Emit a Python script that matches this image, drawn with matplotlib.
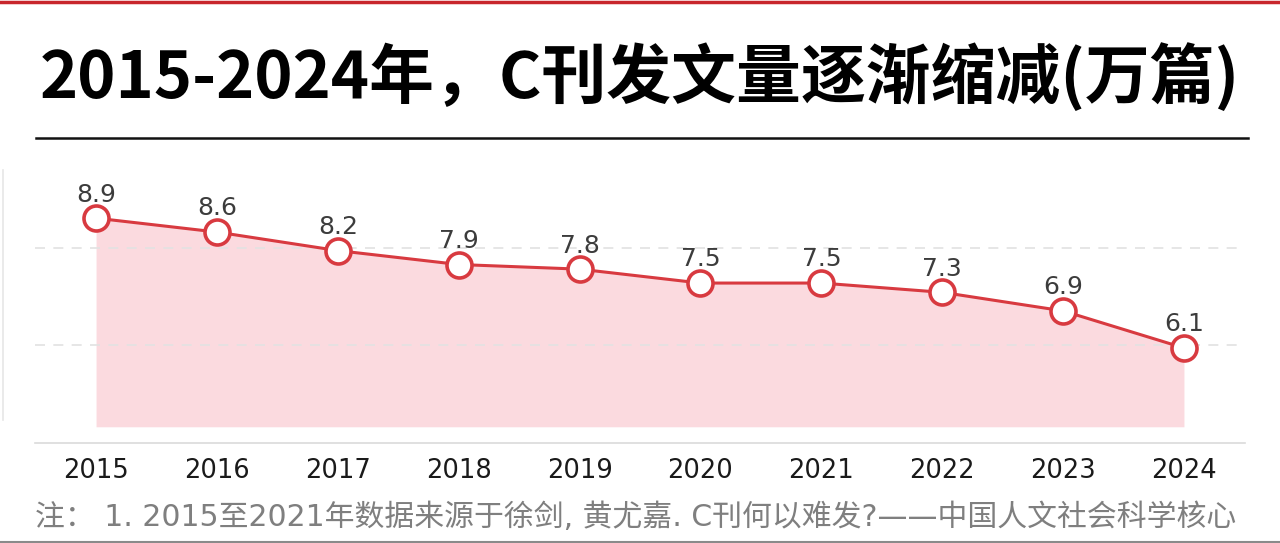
import matplotlib
matplotlib.use("Agg")
import matplotlib.pyplot as plt
from matplotlib.lines import Line2D

plt.rcParams['font.family'] = ['Noto Sans CJK SC', 'DejaVu Sans']

# data
years = [2015, 2016, 2017, 2018, 2019, 2020, 2021, 2022, 2023, 2024]
papers = [8.9, 8.6, 8.2, 7.9, 7.8, 7.5, 7.5, 7.3, 6.9, 6.1]
value_labels = ["8.9", "8.6", "8.2", "7.9", "7.8", "7.5", "7.5", "7.3", "6.9", "6.1"]

title = "2015-2024年，C刊发文量逐渐缩减(万篇)"
note = "注： 1. 2015至2021年数据来源于徐剑, 黄尤嘉. C刊何以难发?——中国人文社会科学核心"

W, H = 1280, 543
fig = plt.figure(figsize=(W / 100, H / 100), dpi=100)
fig.patch.set_facecolor("white")

# axes placed in pixel coords: x 35..1245, y 150..443 (from top)
ax = fig.add_axes([35 / W, 1 - 443 / H, 1210 / W, 293 / H])
ax.set_xlim(2014.495, 2024.505)
ax.set_ylim(4.05, 10.37)

red = "#d83a40"
ax.fill_between(years, papers, 4.4, color="#fbdadf", lw=0, zorder=1)
ax.plot(years, papers, color=red, lw=2.2, zorder=3,
        marker="o", markersize=18, markerfacecolor="white",
        markeredgecolor=red, markeredgewidth=2.6)

for x, y, s in zip(years, papers, value_labels):
    ax.annotate(s, (x, y), xytext=(0, 17), textcoords="offset points",
                ha="center", va="center", fontsize=18, color="#3c3c3c",
                family=["DejaVu Sans"])

ax.set_yticks([6.16, 8.25])
ax.yaxis.grid(True, color="#e2e2e2", lw=1.2, ls=(0, (6, 5)))
ax.tick_params(axis="y", left=False, labelleft=False)
ax.set_xticks(years)
ax.set_xticklabels([str(y) for y in years], fontsize=18.5, color="#1a1a1a",
                   family=["DejaVu Sans"])
ax.tick_params(axis="x", length=0, pad=11)
for side in ["top", "left", "right"]:
    ax.spines[side].set_visible(False)
ax.spines["bottom"].set_color("#dadada")
ax.spines["bottom"].set_linewidth(1.2)
ax.set_facecolor("none")

# title and decoration
fig.text(640 / W, 1 - 78 / H, title, ha="center", va="center",
         fontsize=46.7, fontweight="bold", color="black")
fig.add_artist(Line2D([36 / W, 1248 / W], [1 - 138 / H, 1 - 138 / H],
                      color="#111111", lw=1.8, transform=fig.transFigure))
fig.add_artist(Line2D([0, 1], [1 - 1.5 / H, 1 - 1.5 / H],
                      color="#c8262c", lw=2.5, transform=fig.transFigure))
fig.add_artist(Line2D([0, 1], [1 - 541.5 / H, 1 - 541.5 / H],
                      color="#8a8a8a", lw=1.5, transform=fig.transFigure))
fig.add_artist(Line2D([3 / W, 3 / W], [1 - 420 / H, 1 - 170 / H],
                      color="#e6e6e6", lw=1.2, transform=fig.transFigure))

fig.text(35 / W, 1 - 517 / H, note, ha="left", va="center",
         fontsize=21.5, color="#7f7f7f", family=["DejaVu Sans", "Noto Sans CJK SC"])

fig.savefig("out.png", dpi=100)
